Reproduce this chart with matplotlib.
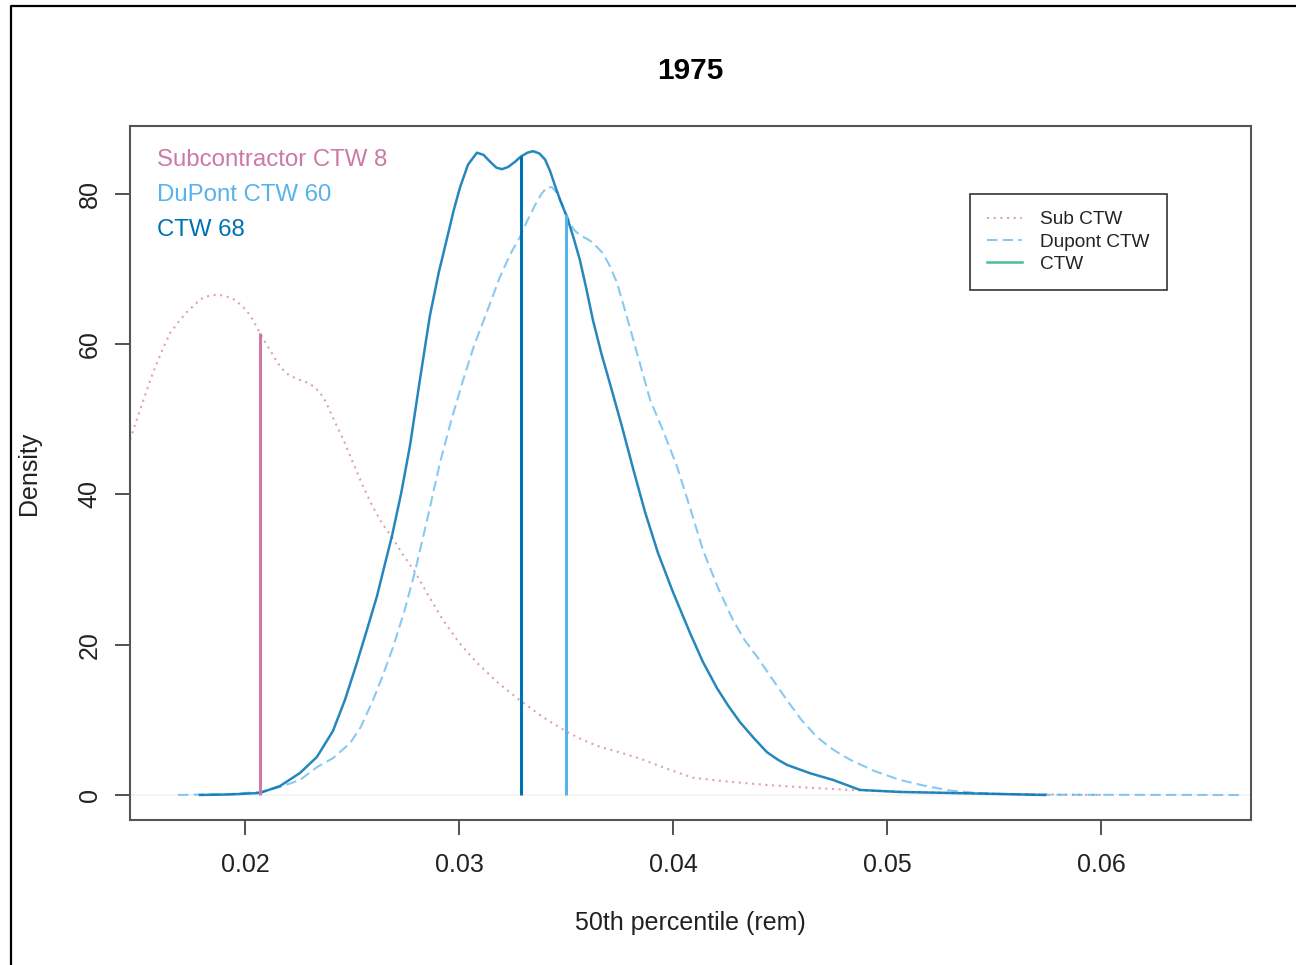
import numpy as np
import matplotlib
matplotlib.use("Agg")
import matplotlib.pyplot as plt
from matplotlib.lines import Line2D

plt.rcParams['font.family'] = ['Liberation Sans', 'DejaVu Sans']

# density curves (x in rem, y = density)
sub_x = [0.01463, 0.01509, 0.01540, 0.01570, 0.01610, 0.01650, 0.01690, 0.01729,
         0.01770, 0.01804, 0.01840, 0.01874, 0.01910, 0.01953, 0.01990, 0.02023,
         0.02070, 0.02100, 0.02126, 0.02150, 0.02178, 0.02205, 0.02234, 0.02260,
         0.02290, 0.02320, 0.02350, 0.02380, 0.02411, 0.02460, 0.02505, 0.02550,
         0.02598, 0.02640, 0.02687, 0.02740, 0.02794, 0.02860, 0.02925, 0.03000,
         0.03084, 0.03180, 0.03285, 0.03390, 0.03505, 0.03580, 0.03659, 0.03760,
         0.03860, 0.03980, 0.04093, 0.04250, 0.04439, 0.04620, 0.04827, 0.05050,
         0.05294, 0.05650, 0.06009]
sub_y = [47.3, 51.2, 53.8, 56.2, 59.0, 61.5, 63.0, 64.3,
         65.4, 66.2, 66.5, 66.6, 66.4, 65.9, 65.0, 63.9,
         61.5, 60.0, 58.8, 57.6, 56.6, 55.9, 55.5, 55.2,
         54.9, 54.4, 53.6, 52.2, 50.2, 47.3, 44.2, 41.2,
         38.3, 36.2, 34.3, 31.9, 29.7, 26.4, 23.3, 20.3,
         17.6, 15.0, 12.6, 10.4, 8.4, 7.3, 6.4, 5.6,
         4.7, 3.4, 2.3, 1.8, 1.33, 1.0, 0.67, 0.45,
         0.27, 0.1, 0.0]

dup_x = [0.01687, 0.01930, 0.02070, 0.02164, 0.02257, 0.02336, 0.02411, 0.02491,
         0.02540, 0.02598, 0.02645, 0.02692, 0.02745, 0.02794, 0.02850, 0.02911,
         0.02965, 0.03019, 0.03070, 0.03121, 0.03192, 0.03240, 0.03285, 0.03320,
         0.03355, 0.03385, 0.03411, 0.03435, 0.03458, 0.03480, 0.03505, 0.03535,
         0.03565, 0.03600, 0.03626, 0.03673, 0.03705, 0.03738, 0.03785, 0.03840,
         0.03893, 0.03955, 0.04019, 0.04080, 0.04140, 0.04210, 0.04280, 0.04335,
         0.04393, 0.04460, 0.04533, 0.04600, 0.04673, 0.04750, 0.04827, 0.04940,
         0.05061, 0.05180, 0.05294, 0.05410, 0.05528, 0.05762, 0.06654]
dup_y = [0.0, 0.13, 0.4, 1.06, 2.0, 3.7, 4.9, 6.9,
         9.0, 12.6, 16.0, 19.7, 24.5, 29.7, 36.5, 44.2,
         50.0, 55.2, 59.8, 63.6, 69.0, 72.0, 74.3, 76.5,
         78.5, 80.0, 80.9, 80.9, 80.1, 78.8, 76.9, 75.3,
         74.5, 74.0, 73.5, 72.1, 70.4, 68.2, 63.6, 58.0,
         52.6, 48.4, 43.7, 38.2, 32.6, 27.6, 23.3, 20.6,
         18.4, 15.6, 12.6, 10.0, 7.7, 6.0, 4.7, 3.2,
         2.0, 1.2, 0.6, 0.3, 0.13, 0.03, 0.0]

ctw_x = [0.01790, 0.01930, 0.02070, 0.02164, 0.02257, 0.02336, 0.02411, 0.02467,
         0.02523, 0.02570, 0.02617, 0.02650, 0.02687, 0.02730, 0.02771, 0.02818,
         0.02864, 0.02905, 0.02944, 0.02975, 0.03005, 0.03042, 0.03084, 0.03115,
         0.03145, 0.03175, 0.03201, 0.03230, 0.03262, 0.03290, 0.03320, 0.03346,
         0.03375, 0.03402, 0.03425, 0.03450, 0.03475, 0.03505, 0.03535, 0.03565,
         0.03595, 0.03626, 0.03665, 0.03706, 0.03760, 0.03813, 0.03869, 0.03930,
         0.04000, 0.04079, 0.04140, 0.04206, 0.04260, 0.04313, 0.04380, 0.04439,
         0.04490, 0.04533, 0.04640, 0.04748, 0.04874, 0.05061, 0.05294, 0.05528,
         0.05738]
ctw_y = [0.0, 0.07, 0.27, 1.2, 2.93, 5.06, 8.52, 12.65,
         17.6, 22.0, 26.5, 30.3, 34.5, 40.2, 46.5, 55.4,
         63.8, 69.5, 74.1, 77.8, 80.9, 83.9, 85.5, 85.2,
         84.3, 83.5, 83.3, 83.6, 84.3, 85.0, 85.5, 85.7,
         85.4, 84.6, 83.1, 81.0, 79.0, 76.9, 74.2, 71.2,
         67.4, 63.2, 58.8, 54.7, 49.2, 43.5, 37.7, 32.2,
         27.0, 21.6, 17.7, 14.2, 11.8, 9.7, 7.5, 5.7,
         4.7, 4.0, 2.9, 2.0, 0.67, 0.40, 0.27, 0.13,
         0.0]

# medians (vertical lines)
sub_med = 0.0207
dup_med = 0.0350
ctw_med = 0.0329

pink = '#CC79A7'
sky = '#56B4E9'
dark = '#0072B2'
green = '#009E73'

fig = plt.figure(figsize=(12.96, 9.65), dpi=100)
ax = fig.add_axes([130/1296, 1-820/965, 1121/1296, 694/965])

ax.axhline(0, color='gray', lw=0.3, alpha=0.4)

ax.plot(sub_x, sub_y, color=pink, lw=1.5, alpha=0.7, dashes=(1, 2.2))
ax.plot(dup_x, dup_y, color=sky, lw=1.5, alpha=0.7, dashes=(5, 2.5))
ax.plot(ctw_x, ctw_y, color=dark, lw=1.8, alpha=0.85)

ax.vlines(sub_med, 0, np.interp(sub_med, sub_x, sub_y), color=pink, lw=2.2)
ax.vlines(dup_med, 0, np.interp(dup_med, dup_x, dup_y), color=sky, lw=2.2)
ax.vlines(ctw_med, 0, np.interp(ctw_med, ctw_x, ctw_y), color=dark, lw=2.2)

ax.set_xlim(0.014626, 0.06701)
ax.set_ylim(-3.33, 89.05)
ax.set_xticks([0.02, 0.03, 0.04, 0.05, 0.06])
ax.set_xticklabels(['0.02', '0.03', '0.04', '0.05', '0.06'])
ax.set_yticks([0, 20, 40, 60, 80])
ax.set_yticklabels(['0', '20', '40', '60', '80'], rotation=90, va='center')
ax.tick_params(axis='both', direction='out', length=10.5, width=1.2,
               color='#333333', labelsize=18, labelcolor='#222222')
ax.tick_params(axis='x', pad=13)
ax.tick_params(axis='y', pad=10)
for s in ax.spines.values():
    s.set_linewidth(1.5)
    s.set_color('#555555')

ax.set_title('1975', fontsize=21.5, fontweight='bold', pad=34)
ax.set_xlabel('50th percentile (rem)', fontsize=18, labelpad=25, color='#222222')
ax.set_ylabel('Density', fontsize=18, labelpad=26, color='#222222')

# group counts in the corner
ax.text(0.024, 0.951, 'Subcontractor CTW 8', transform=ax.transAxes, color=pink,
        fontsize=17.3, va='center', ha='left')
ax.text(0.024, 0.900, 'DuPont CTW 60', transform=ax.transAxes, color=sky,
        fontsize=17.3, va='center', ha='left')
ax.text(0.024, 0.850, 'CTW 68', transform=ax.transAxes, color=dark,
        fontsize=17.3, va='center', ha='left')

handles = [Line2D([], [], color=pink, lw=1.5, alpha=0.7, dashes=(1, 2.2)),
           Line2D([], [], color=sky, lw=1.5, alpha=0.7, dashes=(5, 2.5)),
           Line2D([], [], color=green, lw=1.8, alpha=0.7)]
leg = ax.legend(handles, ['Sub CTW', 'Dupont CTW', 'CTW'], loc='upper left',
                bbox_to_anchor=(970/1296, 1-194/965), bbox_transform=fig.transFigure,
                borderaxespad=0, fontsize=13.7, frameon=True, fancybox=False,
                edgecolor='black', handlelength=1.85, handletextpad=0.95,
                labelspacing=0.25, borderpad=0.9)
leg.get_frame().set_linewidth(1.2)
for t in leg.get_texts():
    t.set_color('#222222')

# outer frame of the screenshot (left and top only)
fig.add_artist(Line2D([11/1296, 11/1296, 1.0], [0.0, 1-6/965, 1-6/965],
                      transform=fig.transFigure, color='black', lw=1.6))

fig.savefig('out.png', dpi=100)
